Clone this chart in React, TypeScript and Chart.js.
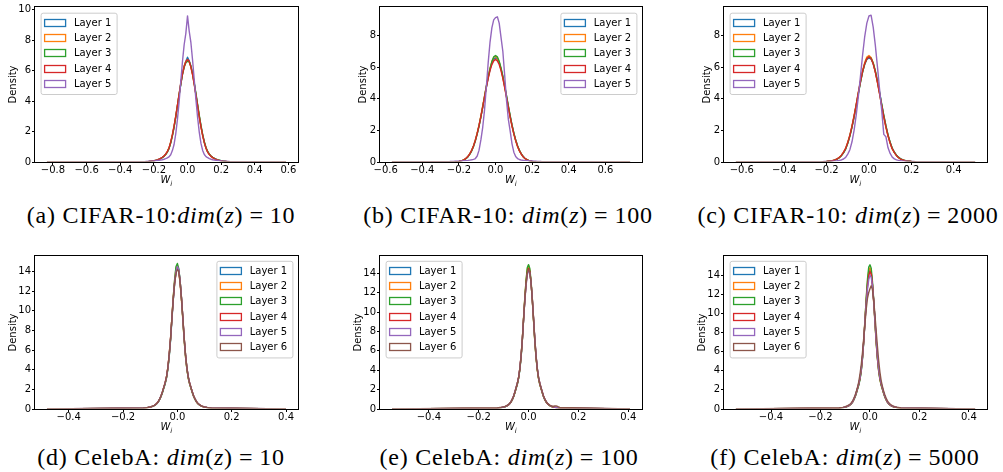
import React, { useEffect, useRef } from "react";
import { Chart, registerables } from "chart.js";

Chart.register(...registerables);

// matplotlib "tab10" colours, one per layer
const LAYER_COLORS = ["#1f77b4", "#ff7f0e", "#2ca02c", "#d62728", "#9467bd", "#8c564b"];

// ---- density grids (bin centres) ----
// CIFAR-10: 51 centres, 0.01 apart, from -0.25 to 0.25
const CIFAR_X_START = -0.25;
const CIFAR_X_STEP = 0.01;
// CelebA: 51 centres, 0.005 apart, from -0.125 to 0.125
const CELEBA_X_START = -0.125;
const CELEBA_X_STEP = 0.005;

// ---- (a) CIFAR-10, dim(z) = 10 : density of w_i, layers 1..5 ----
const cifarDim10Layers = [
  [.017,.024,.033,.045,.06,.08,.11,.14,.18,.23,.30,.38,.50,.67,.90,1.27,1.75,2.31,2.96,3.69,4.42,5.13,5.79,6.30,6.62,
   6.88,
   6.65,6.30,5.80,5.16,4.45,3.72,3.00,2.35,1.78,1.29,.92,.66,.50,.38,.30,.23,.18,.14,.11,.08,.06,.045,.033,.024,.017],
  [.018,.025,.034,.046,.062,.082,.11,.145,.185,.235,.31,.39,.52,.69,.93,1.31,1.79,2.36,3.02,3.74,4.47,5.18,5.82,6.30,6.60,
   6.72,
   6.56,6.24,5.74,5.11,4.40,3.67,2.95,2.30,1.74,1.26,.90,.65,.49,.37,.29,.22,.175,.135,.105,.078,.058,.043,.032,.023,.016],
  [.016,.023,.032,.044,.058,.078,.105,.135,.175,.225,.29,.37,.49,.65,.88,1.25,1.72,2.28,2.94,3.66,4.39,5.10,5.74,6.22,6.52,
   6.62,
   6.60,6.30,5.82,5.20,4.50,3.78,3.06,2.40,1.82,1.33,.95,.69,.52,.39,.31,.24,.185,.145,.112,.082,.062,.046,.034,.025,.018],
  [.018,.025,.034,.046,.061,.081,.11,.14,.18,.235,.31,.39,.51,.68,.92,1.30,1.78,2.35,3.00,3.72,4.45,5.15,5.78,6.26,6.58,
   6.74,
   6.62,6.25,5.74,5.10,4.40,3.68,2.96,2.31,1.75,1.27,.90,.65,.49,.37,.29,.22,.175,.135,.105,.078,.058,.044,.032,.023,.016],
  [.035,.04,.045,.05,.06,.07,.08,.095,.11,.13,.15,.18,.22,.27,.34,.48,.75,1.15,1.85,2.80,3.95,5.30,6.60,7.70,8.45,
   9.6,
   8.60,7.85,6.70,5.40,4.10,2.92,1.95,1.22,.76,.49,.35,.28,.22,.18,.15,.13,.11,.095,.08,.07,.06,.05,.045,.04,.035],
];
const cifarDim10Extent = [-0.836, 0.586];
const cifarDim10XTicks = [-0.8, -0.6, -0.4, -0.2, 0.0, 0.2, 0.4, 0.6];
const cifarDim10YTicks = [0, 2, 4, 6, 8, 10];

// ---- (b) CIFAR-10, dim(z) = 100 ----
const cifarDim100Layers = [
  [.004,.006,.01,.016,.025,.04,.06,.10,.15,.24,.35,.52,.73,1.01,1.37,1.80,2.30,2.87,3.49,4.13,4.77,5.36,5.87,6.27,6.51,
   6.60,
   6.53,6.30,5.90,5.40,4.81,4.17,3.53,2.91,2.33,1.82,1.39,1.02,.74,.52,.35,.24,.15,.10,.06,.04,.025,.016,.01,.006,.004],
  [.004,.006,.01,.017,.026,.042,.063,.105,.16,.25,.36,.54,.76,1.04,1.41,1.85,2.35,2.93,3.55,4.19,4.83,5.42,5.94,6.36,6.62,
   6.70,
   6.58,6.30,5.88,5.35,4.75,4.11,3.47,2.85,2.28,1.78,1.35,1.00,.72,.51,.34,.23,.15,.095,.06,.038,.024,.015,.009,.006,.004],
  [.004,.006,.01,.015,.024,.038,.058,.095,.145,.23,.34,.50,.71,.99,1.35,1.78,2.28,2.85,3.48,4.13,4.78,5.38,5.92,6.36,6.66,
   6.75,
   6.66,6.38,5.96,5.44,4.84,4.20,3.55,2.93,2.35,1.84,1.40,1.04,.75,.53,.36,.24,.16,.10,.06,.04,.025,.016,.01,.006,.004],
  [.004,.006,.01,.016,.026,.041,.062,.10,.155,.245,.36,.53,.74,1.02,1.38,1.81,2.31,2.87,3.48,4.11,4.73,5.30,5.79,6.17,6.41,
   6.50,
   6.41,6.18,5.79,5.30,4.72,4.09,3.46,2.85,2.28,1.78,1.36,1.00,.72,.51,.35,.24,.15,.10,.06,.04,.025,.016,.01,.006,.004],
  [.03,.035,.04,.045,.05,.055,.06,.07,.08,.09,.10,.12,.14,.17,.22,.38,.75,1.40,2.20,3.30,4.80,6.30,7.60,8.50,9.00,
   9.15,
   9.20,8.80,7.90,7.00,5.50,3.90,2.70,1.95,1.15,.62,.35,.22,.16,.13,.11,.10,.09,.08,.07,.06,.05,.045,.04,.035,.03],
];
const cifarDim100Extent = [-0.566, 0.735];
const cifarDim100XTicks = [-0.6, -0.4, -0.2, 0.0, 0.2, 0.4, 0.6];
const cifarDim100YTicks = [0, 2, 4, 6, 8];

// ---- (c) CIFAR-10, dim(z) = 2000 ----
const cifarDim2000Layers = [
  [.005,.008,.011,.016,.023,.032,.045,.06,.09,.13,.19,.28,.41,.59,.83,1.20,1.66,2.23,2.88,3.60,4.35,5.07,5.71,6.21,6.50,
   6.60,
   6.52,6.22,5.73,5.10,4.39,3.65,2.93,2.28,1.70,1.23,.86,.61,.42,.29,.19,.13,.09,.06,.045,.032,.023,.016,.011,.008,.005],
  [.005,.008,.011,.017,.024,.034,.047,.063,.095,.135,.20,.29,.43,.62,.87,1.25,1.71,2.29,2.95,3.67,4.42,5.14,5.79,6.30,6.65,
   6.75,
   6.62,6.27,5.73,5.06,4.32,3.57,2.85,2.20,1.64,1.19,.83,.59,.40,.27,.18,.125,.085,.058,.043,.031,.022,.015,.011,.007,.005],
  [.005,.007,.01,.015,.022,.031,.044,.058,.087,.125,.185,.27,.40,.58,.82,1.18,1.64,2.21,2.86,3.58,4.33,5.05,5.70,6.20,6.54,
   6.65,
   6.58,6.27,5.78,5.14,4.42,3.68,2.96,2.30,1.72,1.25,.87,.62,.43,.29,.20,.135,.092,.062,.046,.033,.024,.016,.011,.008,.005],
  [.005,.008,.011,.016,.024,.033,.046,.062,.092,.132,.195,.285,.42,.61,.86,1.23,1.69,2.26,2.92,3.64,4.39,5.10,5.74,6.23,6.55,
   6.66,
   6.56,6.22,5.70,5.05,4.33,3.58,2.87,2.22,1.66,1.20,.83,.59,.40,.27,.185,.125,.088,.058,.044,.031,.022,.015,.011,.007,.005],
  [.012,.015,.02,.025,.03,.035,.04,.045,.055,.065,.08,.10,.13,.19,.29,.50,.78,1.28,2.02,2.98,4.15,5.45,6.78,7.95,8.80,
   9.25,
   9.30,8.55,7.40,6.05,4.62,3.30,1.75,1.60,.90,.54,.31,.20,.135,.10,.08,.065,.055,.045,.04,.035,.03,.025,.02,.015,.012],
];
const cifarDim2000Extent = [-0.628, 0.501];
const cifarDim2000XTicks = [-0.6, -0.4, -0.2, 0.0, 0.2, 0.4];
const cifarDim2000YTicks = [0, 2, 4, 6, 8];

// ---- (d) CelebA, dim(z) = 10 : layers 1..6 ----
const celebaDim10Layers = [
  [.085,.10,.12,.14,.17,.20,.24,.29,.36,.45,.57,.75,1.0,1.3,1.7,2.15,2.6,3.2,4.1,5.4,7.0,9.1,11.1,12.8,13.9,
   14.4,
   14.2,13.0,11.3,9.3,7.2,5.5,4.15,3.25,2.62,2.16,1.7,1.3,1.0,.75,.57,.45,.36,.29,.24,.20,.17,.14,.12,.10,.085],
  [.09,.105,.125,.145,.175,.205,.245,.30,.37,.46,.59,.77,1.02,1.33,1.73,2.2,2.65,3.25,4.18,5.5,7.2,9.35,11.4,13.1,14.3,
   14.6,
   14.0,12.8,11.1,9.1,7.0,5.3,4.05,3.15,2.56,2.12,1.68,1.28,.98,.74,.56,.44,.35,.28,.235,.195,.165,.135,.115,.095,.08],
  [.08,.095,.115,.135,.165,.195,.235,.28,.35,.44,.56,.73,.97,1.27,1.66,2.1,2.55,3.15,4.05,5.35,7.1,9.3,11.4,13.2,14.5,
   14.8,
   14.3,13.1,11.3,9.2,7.05,5.35,4.05,3.15,2.55,2.1,1.66,1.27,.97,.73,.56,.44,.35,.28,.235,.195,.165,.135,.115,.095,.08],
  [.085,.10,.12,.14,.17,.20,.245,.295,.365,.46,.58,.76,1.02,1.33,1.74,2.2,2.66,3.28,4.2,5.52,7.2,9.3,11.25,12.85,13.9,
   14.3,
   14.1,13.0,11.35,9.35,7.25,5.5,4.18,3.26,2.64,2.18,1.72,1.32,1.02,.76,.58,.46,.365,.295,.245,.20,.17,.14,.12,.10,.085],
  [.095,.11,.13,.15,.18,.21,.25,.30,.37,.46,.58,.77,1.03,1.34,1.75,2.2,2.65,3.25,4.15,5.45,7.15,9.25,11.2,12.9,14.0,
   14.5,
   14.2,13.05,11.35,9.3,7.2,5.5,4.2,3.28,2.66,2.2,1.74,1.33,1.03,.77,.59,.47,.375,.30,.25,.21,.18,.15,.13,.11,.095],
  [.095,.11,.13,.15,.18,.21,.25,.30,.37,.46,.58,.77,1.03,1.34,1.75,2.22,2.68,3.3,4.22,5.55,7.25,9.3,11.2,12.8,13.8,
   14.2,
   14.0,12.9,11.3,9.35,7.3,5.6,4.25,3.3,2.68,2.2,1.74,1.34,1.03,.77,.59,.47,.375,.30,.25,.21,.18,.15,.13,.11,.095],
];
const celebaDim10Extent = [-0.48, 0.4];
const celebaDim10XTicks = [-0.4, -0.2, 0.0, 0.2, 0.4];
const celebaDim10YTicks = [0, 2, 4, 6, 8, 10, 12, 14];

// ---- (e) CelebA, dim(z) = 100 ----
const celebaDim100Layers = [
  [.08,.095,.115,.135,.165,.195,.235,.285,.355,.445,.565,.745,.99,1.29,1.69,2.14,2.59,3.19,4.09,5.38,7.1,9.25,11.3,13.05,14.25,
   14.6,
   14.2,13.0,11.25,9.2,7.08,5.38,4.08,3.18,2.58,2.14,1.69,1.29,.99,.75,.57,.45,.36,.29,.24,.20,.17,.14,.12,.10,.085],
  [.085,.10,.12,.14,.17,.20,.24,.29,.36,.45,.57,.75,1.0,1.31,1.72,2.18,2.64,3.25,4.17,5.5,7.25,9.45,11.5,13.25,14.45,
   14.8,
   14.3,13.0,11.2,9.1,6.98,5.3,4.02,3.13,2.55,2.11,1.67,1.28,.98,.74,.56,.44,.35,.285,.235,.195,.165,.135,.115,.095,.08],
  [.08,.095,.115,.135,.16,.19,.23,.28,.35,.44,.56,.73,.97,1.27,1.66,2.1,2.55,3.15,4.05,5.35,7.12,9.35,11.5,13.3,14.6,
   14.9,
   14.5,13.2,11.35,9.2,7.05,5.35,4.05,3.15,2.55,2.1,1.66,1.27,.97,.73,.56,.44,.35,.28,.235,.195,.165,.135,.115,.095,.08],
  [.085,.10,.12,.14,.17,.20,.24,.29,.36,.45,.57,.76,1.01,1.32,1.72,2.17,2.63,3.24,4.15,5.45,7.15,9.28,11.3,12.95,14.1,
   14.5,
   14.2,13.05,11.35,9.3,7.2,5.46,4.14,3.23,2.63,2.17,1.72,1.32,1.01,.76,.58,.46,.365,.295,.245,.205,.175,.145,.12,.10,.085],
  [.095,.11,.13,.15,.18,.21,.25,.30,.37,.46,.59,.78,1.04,1.36,1.77,2.23,2.7,3.3,4.22,5.52,7.2,9.25,11.15,12.75,13.85,
   14.3,
   14.05,13.0,11.35,9.35,7.3,5.55,4.22,3.3,2.69,2.22,1.76,1.35,1.04,.78,.60,.48,.38,.31,.26,.22,.19,.16,.14,.12,.10],
  [.11,.13,.15,.17,.20,.23,.27,.32,.39,.48,.60,.79,1.04,1.35,1.76,2.22,2.68,3.28,4.2,5.5,7.2,9.3,11.25,12.9,14.0,
   14.4,
   14.15,13.0,11.3,9.3,7.22,5.5,4.18,3.26,2.66,2.2,1.75,1.35,1.05,.80,.62,.50,.40,.31,.28,.29,.31,.31,.28,.22,.16],
];
const celebaDim100Extent = [-0.548, 0.407];
const celebaDim100XTicks = [-0.4, -0.2, 0.0, 0.2, 0.4];
const celebaDim100YTicks = [0, 2, 4, 6, 8, 10, 12, 14];

// ---- (f) CelebA, dim(z) = 5000 ----
const celebaDim5000Layers = [
  [.085,.10,.12,.14,.17,.20,.24,.29,.36,.45,.57,.75,1.0,1.3,1.7,2.15,2.6,3.2,4.1,5.4,7.1,9.25,11.3,13.05,14.2,
   14.6,
   14.25,13.05,11.3,9.25,7.12,5.42,4.1,3.2,2.6,2.15,1.7,1.3,1.0,.75,.57,.45,.36,.29,.24,.20,.17,.14,.12,.10,.085],
  [.085,.10,.12,.14,.17,.20,.24,.29,.36,.45,.57,.75,1.0,1.31,1.72,2.18,2.64,3.26,4.18,5.52,7.28,9.5,11.55,13.3,14.45,
   14.8,
   14.3,12.95,11.15,9.05,6.95,5.28,4.0,3.12,2.54,2.1,1.66,1.27,.98,.74,.56,.44,.35,.285,.235,.195,.165,.135,.115,.095,.08],
  [.08,.095,.115,.135,.16,.19,.23,.28,.35,.44,.56,.73,.97,1.26,1.65,2.08,2.52,3.12,4.02,5.35,7.15,9.45,11.7,13.6,14.85,
   15.1,
   14.75,13.35,11.45,9.25,7.05,5.32,4.02,3.12,2.52,2.08,1.65,1.26,.97,.73,.56,.44,.35,.28,.235,.195,.165,.135,.115,.095,.08],
  [.085,.10,.12,.14,.17,.20,.245,.295,.365,.46,.58,.76,1.02,1.33,1.73,2.19,2.65,3.27,4.18,5.48,7.15,9.25,11.2,12.85,13.95,
   14.4,
   14.15,13.05,11.4,9.4,7.28,5.52,4.2,3.27,2.65,2.19,1.73,1.33,1.02,.76,.58,.46,.365,.295,.245,.205,.175,.145,.12,.10,.085],
  [.095,.11,.13,.15,.18,.21,.25,.30,.37,.47,.59,.78,1.05,1.37,1.78,2.25,2.72,3.34,4.27,5.58,7.25,9.25,11.05,12.55,13.55,
   14.0,
   13.8,12.85,11.3,9.4,7.35,5.6,4.27,3.34,2.72,2.25,1.78,1.37,1.05,.78,.60,.48,.38,.31,.26,.22,.19,.16,.14,.12,.10],
  [.11,.13,.15,.17,.20,.24,.29,.35,.42,.52,.66,.86,1.12,1.45,1.85,2.3,2.9,3.7,4.7,6.0,7.5,9.0,10.5,11.6,12.2,
   12.6,
   12.9,12.5,11.4,9.9,8.2,6.6,5.1,3.9,3.0,2.4,1.9,1.5,1.15,.88,.68,.54,.44,.36,.30,.25,.21,.18,.16,.14,.12],
];
const celebaDim5000Extent = [-0.542, 0.425];
const celebaDim5000XTicks = [-0.4, -0.2, 0.0, 0.2, 0.4];
const celebaDim5000YTicks = [0, 2, 4, 6, 8, 10, 12, 14];

// ---- sub-figure captions ----
const CAPTION_TAGS = ["a", "b", "c", "d", "e", "f"];
const CAPTION_DATASETS = ["CIFAR-10", "CIFAR-10", "CIFAR-10", "CelebA", "CelebA", "CelebA"];
const CAPTION_DIMS = [10, 100, 2000, 10, 100, 5000];

type Plot = { left: number; top: number; right: number; bottom: number };
type PanelSpec = {
  plot: Plot;
  xMin: number;
  xMax: number;
  yMax: number;
  xTicks: number[];
  yTicks: number[];
  layers: number[][];
  gridStart: number;
  gridStep: number;
  extent: number[];
  legendSide: "left" | "right";
  legendInsetY: number;
  densityOffset: number;
};

const PANELS: PanelSpec[] = [
  {
    plot: { left: 35, top: 7, right: 298, bottom: 162 },
    xMin: -0.907, xMax: 0.657, yMax: 10.18,
    xTicks: cifarDim10XTicks, yTicks: cifarDim10YTicks,
    layers: cifarDim10Layers, gridStart: CIFAR_X_START, gridStep: CIFAR_X_STEP, extent: cifarDim10Extent,
    legendSide: "left", legendInsetY: 5.7, densityOffset: 21.7,
  },
  {
    plot: { left: 380, top: 7, right: 642, bottom: 162 },
    xMin: -0.631, xMax: 0.8, yMax: 9.82,
    xTicks: cifarDim100XTicks, yTicks: cifarDim100YTicks,
    layers: cifarDim100Layers, gridStart: CIFAR_X_START, gridStep: CIFAR_X_STEP, extent: cifarDim100Extent,
    legendSide: "right", legendInsetY: 5.7, densityOffset: 16.6,
  },
  {
    plot: { left: 724, top: 7, right: 987, bottom: 162 },
    xMin: -0.684, xMax: 0.557, yMax: 9.82,
    xTicks: cifarDim2000XTicks, yTicks: cifarDim2000YTicks,
    layers: cifarDim2000Layers, gridStart: CIFAR_X_START, gridStep: CIFAR_X_STEP, extent: cifarDim2000Extent,
    legendSide: "left", legendInsetY: 5.7, densityOffset: 16.4,
  },
  {
    plot: { left: 35, top: 256, right: 298, bottom: 409 },
    xMin: -0.524, xMax: 0.444, yMax: 15.56,
    xTicks: celebaDim10XTicks, yTicks: celebaDim10YTicks,
    layers: celebaDim10Layers, gridStart: CELEBA_X_START, gridStep: CELEBA_X_STEP, extent: celebaDim10Extent,
    legendSide: "right", legendInsetY: 4.8, densityOffset: 21.7,
  },
  {
    plot: { left: 380, top: 256, right: 642, bottom: 409 },
    xMin: -0.596, xMax: 0.455, yMax: 15.79,
    xTicks: celebaDim100XTicks, yTicks: celebaDim100YTicks,
    layers: celebaDim100Layers, gridStart: CELEBA_X_START, gridStep: CELEBA_X_STEP, extent: celebaDim100Extent,
    legendSide: "left", legendInsetY: 4.8, densityOffset: 21.7,
  },
  {
    plot: { left: 724, top: 256, right: 987, bottom: 409 },
    xMin: -0.59, xMax: 0.473, yMax: 16.02,
    xTicks: celebaDim5000XTicks, yTicks: celebaDim5000YTicks,
    layers: celebaDim5000Layers, gridStart: CELEBA_X_START, gridStep: CELEBA_X_STEP, extent: celebaDim5000Extent,
    legendSide: "left", legendInsetY: 4.8, densityOffset: 21.6,
  },
];

const CAPTION_POS = [
  { cx: 161, cy: 215 },
  { cx: 508, cy: 215 },
  { cx: 848, cy: 215 },
  { cx: 161, cy: 457 },
  { cx: 509, cy: 457 },
  { cx: 845, cy: 457 },
];

// Space reserved around the plotting area inside each canvas
const PAD_LEFT = 35;
const PAD_TOP = 7;
const PAD_RIGHT = 15;
const PAD_BOTTOM = 30;

const TICK_FONT = "DejaVu Sans";

// Density outline: the sampled centres, closed with zero runs out to the data range.
function densityPoints(start: number, step: number, values: number[], extent: number[]) {
  const pts: { x: number; y: number }[] = [{ x: extent[0], y: 0 }];
  values.forEach((v, i) => pts.push({ x: start + i * step, y: v }));
  pts.push({ x: extent[1], y: 0 });
  return pts;
}

function formatX(v: number) {
  const s = Math.abs(v) < 1e-9 ? "0.0" : v.toFixed(1);
  return s.replace("-", "\u2212");
}

const panelDecor = {
  id: "panelDecor",
  afterDatasetsDraw(chart: any) {
    const { ctx, chartArea: a } = chart;
    ctx.save();
    ctx.strokeStyle = "#000";
    ctx.lineWidth = 1;
    ctx.strokeRect(a.left - 0.5, a.top - 0.5, a.right - a.left + 1, a.bottom - a.top + 1);
    ctx.restore();
  },
  afterDraw(chart: any, _args: any, opts: any) {
    const { ctx, chartArea: a } = chart;
    ctx.save();
    ctx.fillStyle = "#000";

    // y-axis label
    ctx.save();
    ctx.translate(a.left - opts.densityOffset, (a.top + a.bottom) / 2);
    ctx.rotate(-Math.PI / 2);
    ctx.font = `10px "${TICK_FONT}"`;
    ctx.textAlign = "center";
    ctx.textBaseline = "middle";
    ctx.fillText("Density", 0, 0);
    ctx.restore();

    // x-axis label: italic W with subscript i
    ctx.textAlign = "left";
    ctx.textBaseline = "alphabetic";
    ctx.font = `italic 10px "${TICK_FONT}"`;
    const wW = ctx.measureText("W").width;
    ctx.font = `italic 7px "${TICK_FONT}"`;
    const wI = ctx.measureText("i").width;
    const x0 = (a.left + a.right) / 2 - (wW + wI) / 2;
    ctx.font = `italic 10px "${TICK_FONT}"`;
    ctx.fillText("W", x0, a.bottom + 21.3);
    ctx.font = `italic 7px "${TICK_FONT}"`;
    ctx.fillText("i", x0 + wW - 0.3, a.bottom + 23.6);

    // legend box
    const labels: string[] = opts.labels;
    const n = labels.length;
    const boxW = 76;
    const rowGap = 15.35;
    const boxH = 19.9 + rowGap * (n - 1);
    const bx = opts.side === "left" ? a.left + 5.6 : a.right - 5.6 - boxW;
    const by = a.top + opts.insetY;
    ctx.beginPath();
    if (ctx.roundRect) ctx.roundRect(bx + 0.5, by + 0.5, boxW, boxH, 2);
    else ctx.rect(bx + 0.5, by + 0.5, boxW, boxH);
    ctx.fillStyle = "rgba(255,255,255,0.8)";
    ctx.fill();
    ctx.strokeStyle = "#cccccc";
    ctx.lineWidth = 1;
    ctx.stroke();

    ctx.font = `10px "${TICK_FONT}"`;
    ctx.textBaseline = "middle";
    labels.forEach((label, i) => {
      const cy = by + 9.8 + rowGap * i;
      ctx.strokeStyle = LAYER_COLORS[i];
      ctx.lineWidth = 1.3;
      ctx.strokeRect(bx + 4, Math.round(cy) - 3.5, 21, 7);
      ctx.fillStyle = "#000";
      ctx.fillText(label, bx + 33.3, cy + 0.5);
    });
    ctx.restore();
  },
};

function HistogramPanel({ panel }: { panel: PanelSpec }) {
  const ref = useRef<HTMLCanvasElement>(null);
  const { plot } = panel;
  const left = plot.left - PAD_LEFT;
  const top = plot.top - PAD_TOP;
  const width = plot.right - plot.left + PAD_LEFT + PAD_RIGHT;
  const height = plot.bottom - plot.top + PAD_TOP + PAD_BOTTOM;

  useEffect(() => {
    const canvas = ref.current;
    if (!canvas) return;
    const n = panel.layers.length;
    const datasets = panel.layers.map((values, i) => ({
      label: `Layer ${i + 1}`,
      data: densityPoints(panel.gridStart, panel.gridStep, values, panel.extent),
      borderColor: LAYER_COLORS[i],
      backgroundColor: LAYER_COLORS[i],
      borderWidth: 1.4,
      borderJoinStyle: "round" as const,
      pointRadius: 0,
      pointHoverRadius: 0,
      fill: false,
      tension: 0,
      order: n - i,
      // keep the near-zero tails tucked under the bottom spine
      clip: { left: 2, right: 2, top: 2, bottom: -0.75 },
    }));
    const tickFont = { family: TICK_FONT, size: 10, lineHeight: 1 };
    const grid = {
      display: true,
      drawOnChartArea: false,
      drawTicks: true,
      tickLength: 3,
      color: "#000",
      lineWidth: 1,
    };
    const chart = new Chart(canvas, {
      type: "line",
      data: { datasets },
      plugins: [panelDecor],
      options: {
        responsive: false,
        animation: false,
        devicePixelRatio: 1,
        events: [],
        layout: {
          padding: { left: 0, top: PAD_TOP, right: PAD_RIGHT, bottom: 0 },
          autoPadding: false,
        },
        plugins: {
          legend: { display: false },
          tooltip: { enabled: false },
          panelDecor: {
            labels: datasets.map((d) => d.label),
            side: panel.legendSide,
            insetY: panel.legendInsetY,
            densityOffset: panel.densityOffset,
          },
        } as any,
        scales: {
          x: {
            type: "linear",
            min: panel.xMin,
            max: panel.xMax,
            afterBuildTicks: (s: any) => {
              s.ticks = panel.xTicks.map((v) => ({ value: v }));
            },
            afterFit: (s: any) => {
              s.height = PAD_BOTTOM;
            },
            ticks: {
              callback: (v: any) => formatX(Number(v)),
              font: tickFont,
              color: "#000",
              padding: 0,
              maxRotation: 0,
              minRotation: 0,
              autoSkip: false,
            },
            grid,
            border: { display: false },
          },
          y: {
            type: "linear",
            min: 0,
            max: panel.yMax,
            afterBuildTicks: (s: any) => {
              s.ticks = panel.yTicks.map((v) => ({ value: v }));
            },
            afterFit: (s: any) => {
              s.width = PAD_LEFT;
            },
            ticks: {
              callback: (v: any) => String(v),
              font: tickFont,
              color: "#000",
              padding: 1,
              autoSkip: false,
            },
            grid,
            border: { display: false },
          },
        },
      } as any,
    });
    return () => chart.destroy();
  }, [panel]);

  return (
    <canvas
      ref={ref}
      width={width}
      height={height}
      style={{ position: "absolute", left, top, width, height, display: "block" }}
    />
  );
}

function Caption({ index }: { index: number }) {
  const { cx, cy } = CAPTION_POS[index];
  const tight = index === 0;
  return (
    <div
      style={{
        position: "absolute",
        left: cx - 200,
        top: cy - 15,
        width: 400,
        height: 30,
        lineHeight: "30px",
        textAlign: "center",
        fontFamily: '"Liberation Serif", serif',
        fontSize: 24,
        letterSpacing: "0.8px",
        whiteSpace: "nowrap",
        color: "#000",
      }}
    >
      ({CAPTION_TAGS[index]}) {CAPTION_DATASETS[index]}:{tight ? "" : " "}
      <i>dim</i>(<i>z</i>)<span style={{ margin: "0 0.25em" }}>=</span>
      {CAPTION_DIMS[index]}
    </div>
  );
}

export default function App() {
  return (
    <div
      style={{
        position: "absolute",
        left: 0,
        top: 0,
        width: 1003,
        height: 472,
        background: "#fff",
        overflow: "hidden",
      }}
    >
      {PANELS.map((p, i) => (
        <HistogramPanel key={i} panel={p} />
      ))}
      {CAPTION_TAGS.map((_, i) => (
        <Caption key={i} index={i} />
      ))}
    </div>
  );
}
